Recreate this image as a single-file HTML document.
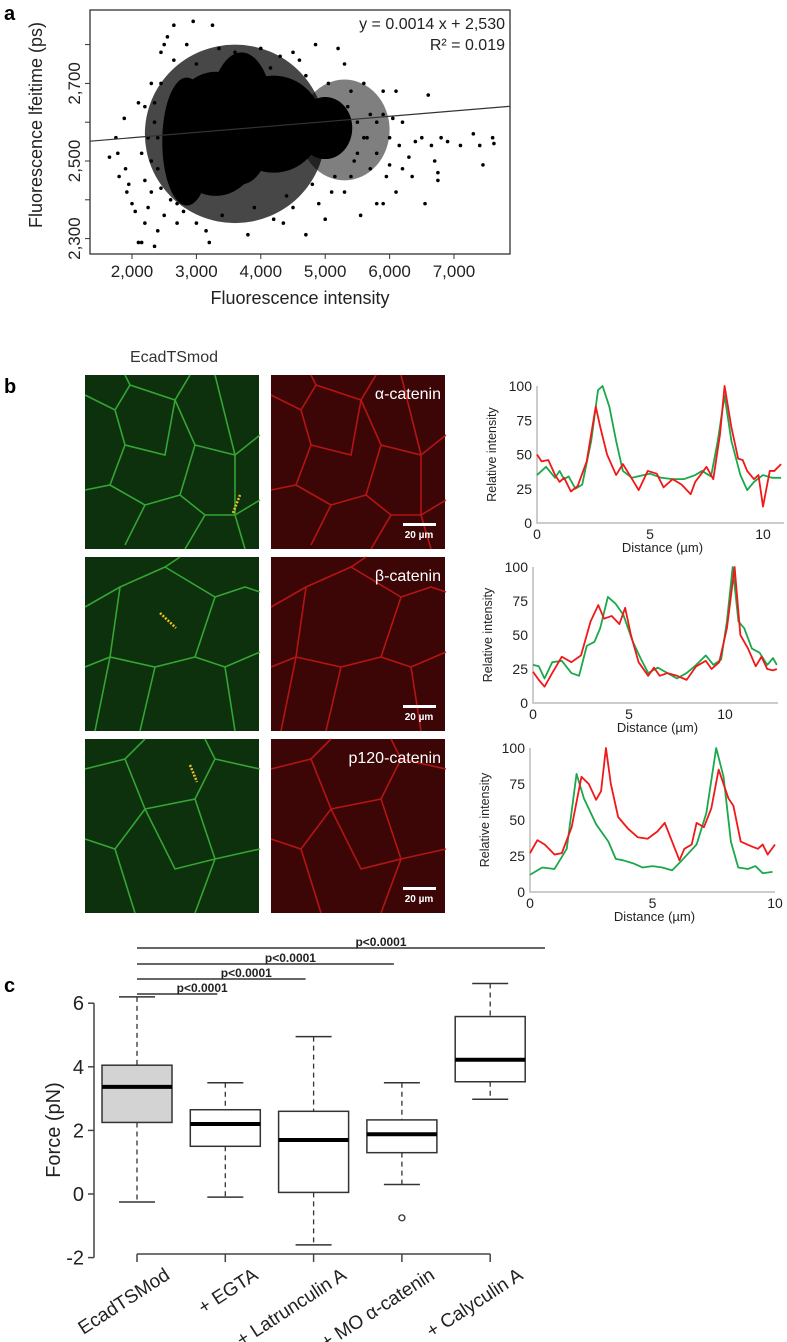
<!DOCTYPE html>
<html><head><meta charset="utf-8"><style>
html,body{margin:0;padding:0;background:#fff;}
svg{display:block;font-family:"Liberation Sans",Arial,sans-serif;}
</style></head><body>
<svg id="fig" width="787" height="1342" viewBox="0 0 787 1342" xmlns="http://www.w3.org/2000/svg">
<text x="4" y="20" font-size="20" font-weight="bold">a</text>
<text x="4" y="393" font-size="20" font-weight="bold">b</text>
<text x="4" y="992" font-size="20" font-weight="bold">c</text>
<g id="pa"></g>
<g id="pb"></g>
<g id="pl"></g>
<g id="pc"></g>
</svg>
<script>
const NS="http://www.w3.org/2000/svg";
function mk(p,t,a,txt){const e=document.createElementNS(NS,t);for(const k in a)e.setAttribute(k,a[k]);if(txt!==undefined)e.textContent=txt;p.appendChild(e);return e;}

// ===== Panel a data =====
const scatterXTicks=[2000,3000,4000,5000,6000,7000];
const scatterXTickLabels=["2,000","3,000","4,000","5,000","6,000","7,000"];
const scatterYTicks=[2300,2500,2700];
const scatterYTickLabels=["2,300","2,500","2,700"];
const scatterMinorY=[2300,2400,2500,2600,2700,2800];
const haloBlobs=[[3600,2570,1400,230,0.72],[5300,2580,700,130,0.5]];
const coreBlobs=[[3300,2570,750,160],[4200,2595,750,125],[5000,2585,420,80],[2850,2550,380,165],[3700,2610,500,170]];
const scatterPts=[[1650,2510],[1750,2560],[1800,2460],[1780,2520],[1880,2610],[1900,2480],[1920,2420],[1950,2440],[2000,2390],[2050,2370],[2100,2290],[2150,2290],[2200,2340],[2350,2280],[2400,2320],[2450,2780],[2550,2820],[2650,2850],[2950,2860],[3250,2850],[3200,2290],[3150,2320],[4350,2340],[4500,2780],[4850,2800],[5200,2790],[5300,2750],[5600,2700],[5900,2680],[6100,2680],[6600,2670],[6200,2600],[6500,2560],[6650,2540],[6800,2560],[6900,2550],[7100,2540],[7300,2570],[7400,2540],[7600,2560],[7620,2545],[7450,2490],[6700,2500],[6750,2470],[6750,2450],[6350,2460],[6550,2390],[5800,2390],[5900,2390],[5550,2360],[5100,2420],[5000,2350],[4900,2390],[6000,2490],[6200,2480],[5700,2480],[5500,2600],[5700,2620],[6000,2560],[5800,2520],[6300,2510],[4700,2310],[3800,2310],[2700,2340],[2800,2370],[2300,2420],[2500,2800],[3600,2780],[4000,2790],[4300,2770],[4600,2760],[3000,2750],[2300,2700],[2200,2640],[2100,2650],[2400,2480],[5400,2460],[5300,2420],[6100,2420],[6400,2550],[2250,2560],[2350,2600],[2300,2500],[5500,2520],[5600,2560],[5200,2650],[5400,2680],[2600,2400],[2500,2360],[4200,2350],[4500,2380],[5900,2620],[6150,2540],[2200,2450],[2150,2520],[2250,2380],[2450,2700],[2650,2760],[2850,2800],[3350,2790],[3800,2760],[4150,2740],[4700,2720],[5050,2700],[5350,2640],[5650,2560],[5450,2500],[5150,2460],[4800,2440],[4400,2410],[3900,2380],[3400,2360],[3000,2340],[2700,2390],[2450,2430],[2400,2560],[2350,2650],[5800,2600],[6050,2610],[5950,2460]];
const fitX=[1350,7870];
const fitY=[2551,2641];

(function(){
 const g=document.getElementById('pa');
 const xs=v=>132+(v-2000)*0.0644, ys=v=>161-(v-2500)*0.388;
 const box=mk(g,'rect',{x:90,y:10,width:420,height:244,fill:'none',stroke:'#333','stroke-width':1.3});
 
 haloBlobs.forEach(b=>{const e=mk(g,'ellipse',{cx:xs(b[0]),cy:ys(b[1]),rx:b[2]*0.0644,ry:b[3]*0.388,fill:'#000',opacity:b[4]});
  });
 coreBlobs.forEach(b=>{const e=mk(g,'ellipse',{cx:xs(b[0]),cy:ys(b[1]),rx:b[2]*0.0644,ry:b[3]*0.388,fill:'#000'});
  });
 scatterPts.forEach(p=>{const c=mk(g,'circle',{cx:xs(p[0]),cy:ys(p[1]),r:1.8,fill:'#000'});
  });
 const ln=mk(g,'line',{x1:Math.max(90,xs(fitX[0])),y1:ys(fitY[0]),x2:Math.min(510,xs(fitX[1])),y2:ys(fitY[1]),stroke:'#333','stroke-width':1.2});
 
 scatterXTicks.forEach((v,i)=>{mk(g,'line',{x1:xs(v),y1:254,x2:xs(v),y2:259,stroke:'#333'});
  const t=mk(g,'text',{x:xs(v),y:277,'font-size':17,'text-anchor':'middle',fill:'#222'},scatterXTickLabels[i]);
  });
 scatterMinorY.forEach(v=>mk(g,'line',{x1:85,y1:ys(v),x2:90,y2:ys(v),stroke:'#333'}));
 scatterYTicks.forEach((v,i)=>{const t=mk(g,'text',{x:0,y:0,'font-size':17,'text-anchor':'middle',fill:'#222',transform:`translate(80,${ys(v)}) rotate(-90)`},scatterYTickLabels[i]);
  });
 let t=mk(g,'text',{x:300,y:304,'font-size':18,'text-anchor':'middle',fill:'#222'},'Fluorescence intensity');
 
 t=mk(g,'text',{x:0,y:0,'font-size':18,'text-anchor':'middle',fill:'#222',transform:'translate(42,125) rotate(-90)'},'Fluorescence lfeitime (ps)');
 
 t=mk(g,'text',{x:505,y:29,'font-size':16,'text-anchor':'end',fill:'#222'},'y = 0.0014 x + 2,530');
 
 t=mk(g,'text',{x:505,y:50,'font-size':16,'text-anchor':'end',fill:'#222'},'R² = 0.019');
 
})();

// ===== Panel b micrographs =====
(function(){
 const g=document.getElementById('pb');
 let t=mk(g,'text',{x:174,y:362,'font-size':16,'text-anchor':'middle',fill:'#333'},'EcadTSmod');
 
 const rows=[375,557,739], labels=['α-catenin','β-catenin','p120-catenin'];
 const cells=[
  "M0,20 L30,35 L45,10 L90,25 L105,0 M90,25 L110,70 L150,80 L175,60 M110,70 L95,120 L60,130 L40,170 M95,120 L120,140 L150,140 L175,125 M60,130 L25,110 L0,115 M25,110 L40,70 L30,35 M40,70 L80,80 L90,25 M150,80 L150,140 L160,174 M120,140 L100,174 M45,10 L40,0 M130,0 L140,40 L150,80",
  "M0,50 L35,30 L80,10 L95,0 M35,30 L25,100 L0,110 M80,10 L130,40 L160,30 L175,35 M130,40 L110,100 L70,110 L25,100 M110,100 L140,110 L175,95 M70,110 L55,174 M140,110 L150,174 M25,100 L10,174",
  "M0,30 L40,20 L60,0 M40,20 L60,70 L30,110 L0,100 M60,70 L110,60 L130,20 L120,0 M110,60 L130,120 L175,110 M130,20 L175,30 M30,110 L50,174 M130,120 L110,174 M60,70 L90,130 L130,120"];
 rows.forEach((y,i)=>{
  [[85,'#0d300d','#3cb83c','green'],[271,'#3d0606','#c81818','red']].forEach(([x,bg,edge,nm])=>{
   const r=mk(g,'rect',{x:x,y:y,width:174,height:174,fill:bg});
   
   mk(g,'path',{d:cells[i],transform:`translate(${x},${y})`,fill:'none',stroke:edge,'stroke-width':1.6,opacity:0.85});
  });
  const l=mk(g,'text',{x:441,y:y+24,'font-size':16,'text-anchor':'end',fill:'#fff'},labels[i]);
  
  mk(g,'rect',{x:403,y:y+148,width:33,height:3,fill:'#fff'});
  const s=mk(g,'text',{x:419,y:y+163,'font-size':10,'font-weight':'bold','text-anchor':'middle',fill:'#fff'},'20 µm');
  
 });
 [[233,513,240,495],[160,613,176,628],[190,765,197,782]].forEach((d,i)=>{
  const y=mk(g,'line',{x1:d[0],y1:d[1],x2:d[2],y2:d[3],stroke:'#f0c020','stroke-width':2.5,'stroke-dasharray':'2 1.5'});
  
 });
})();

// ===== Line profiles data =====
const p1GreenX=[0,.4,.8,1,1.2,1.4,1.7,2,2.4,2.7,2.9,3.2,3.5,3.8,4.2,5,5.5,6,6.5,7,7.3,7.7,8,8.3,8.6,9,9.3,9.6,10,10.4,10.8];
const p1Green=[35,41,33,38,32,34,25,28,60,97,100,85,60,38,33,36,33,32,32,35,38,34,60,93,60,35,24,30,35,33,33];
const p1RedX=[0,.2,.5,.8,1,1.2,1.5,1.8,2.2,2.6,2.8,3.1,3.5,3.8,4.1,4.5,4.9,5.3,5.6,6,6.4,6.8,7,7.5,7.8,8.1,8.3,8.6,8.9,9.1,9.3,9.6,9.8,10,10.3,10.5,10.8];
const p1Red=[50,45,46,35,30,33,23,27,45,85,70,50,35,43,35,24,38,36,26,32,28,21,30,41,32,65,100,70,47,46,38,32,35,12,38,38,43];
const p2GreenX=[0,.3,.6,1,1.5,2,2.4,2.8,3.2,3.5,3.9,4.3,4.7,5.2,5.6,6,6.5,7,7.5,8,8.5,9,9.4,9.8,10.1,10.4,10.7,11,11.4,11.8,12.2,12.5,12.7];
const p2Green=[28,27,18,30,31,22,20,42,45,55,78,73,65,45,33,22,26,22,18,22,28,35,28,32,60,100,60,55,40,37,28,33,28];
const p2RedX=[0,.3,.6,1,1.5,2,2.5,3,3.4,3.7,4.1,4.5,4.8,5.1,5.5,6,6.3,6.6,7,7.5,8,8.5,9,9.3,9.7,10.1,10.5,10.8,11.2,11.6,11.9,12.2,12.5,12.7];
const p2Red=[23,17,12,22,34,30,35,60,72,62,64,58,70,50,30,20,26,20,22,20,17,27,31,25,30,55,100,50,40,27,34,25,24,25];
const p3GreenX=[0,.5,1,1.5,1.9,2.2,2.7,3.2,3.5,3.8,4.2,4.6,5,5.4,5.8,6.2,6.8,7.2,7.6,7.9,8.2,8.5,8.9,9.2,9.5,9.9];
const p3Green=[12,17,16,30,82,65,47,35,23,22,20,17,18,17,15,22,33,55,100,80,35,17,16,18,13,14];
const p3RedX=[0,.3,.6,1,1.3,1.7,2.1,2.4,2.7,2.9,3.1,3.3,3.6,4,4.4,4.8,5.2,5.5,5.8,6.1,6.3,6.6,6.8,7.1,7.4,7.7,8.1,8.3,8.6,9,9.3,9.5,9.7,10];
const p3Red=[27,36,33,26,27,45,80,75,64,70,100,75,52,44,38,37,42,48,35,22,30,33,48,45,58,85,65,60,35,32,30,33,26,33];
const yTicksProfile=[0,25,50,75,100];
const xTicksP1=[0,5,10], xTicksP2=[0,5,10], xTicksP3=[0,5,10];

(function(){
 const g=document.getElementById('pl');
 const charts=[
  {x0:537,x10:763,xend:784,y0:523,y100:386,xt:xTicksP1,s:[[p1GreenX,p1Green,'#1aa84a'],[p1RedX,p1Red,'#f01818']]},
  {x0:533,x10:725,xend:778,y0:703,y100:567,xt:xTicksP2,s:[[p2GreenX,p2Green,'#1aa84a'],[p2RedX,p2Red,'#f01818']]},
  {x0:530,x10:775,xend:775,y0:892,y100:748,xt:xTicksP3,s:[[p3GreenX,p3Green,'#1aa84a'],[p3RedX,p3Red,'#f01818']]}];
 charts.forEach((c,ci)=>{
  const xs=v=>c.x0+v*(c.x10-c.x0)/10, ys=v=>c.y0-v*(c.y0-c.y100)/100;
  const cg=mk(g,'g',{});
  mk(cg,'polyline',{points:`${c.x0},${c.y100} ${c.x0},${c.y0} ${c.xend},${c.y0}`,fill:'none',stroke:'#bbb','stroke-width':1.5});
  yTicksProfile.forEach(v=>{const t=mk(cg,'text',{x:c.x0-5,y:ys(v)+5,'font-size':14,'text-anchor':'end',fill:'#222'},String(v));
   });
  c.xt.forEach(v=>{const t=mk(cg,'text',{x:xs(v),y:c.y0+16,'font-size':14,'text-anchor':'middle',fill:'#222'},String(v));
   });
  let t=mk(cg,'text',{x:(c.x0+c.xend)/2+2,y:c.y0+29,'font-size':13,'text-anchor':'middle',fill:'#222'},'Distance (µm)');
  
  t=mk(cg,'text',{x:0,y:0,'font-size':12.5,'text-anchor':'middle',fill:'#222',transform:`translate(${c.x0-41},${(c.y0+c.y100)/2}) rotate(-90)`},'Relative intensity');
  
  c.s.forEach(([X,Y,col],si)=>{
   const p=mk(cg,'polyline',{points:X.map((x,i)=>xs(x)+','+ys(Y[i])).join(' '),fill:'none',stroke:col,'stroke-width':1.8,'stroke-linejoin':'round'});
   
  });
 });
})();

// ===== Panel c boxplot data =====
const boxCats=["EcadTSMod","+ EGTA","+ Latrunculin A","+ MO α-catenin","+ Calyculin A"];
const boxLow=[-0.25,-0.1,-1.6,0.3,2.98];
const boxQ1=[2.25,1.5,0.05,1.3,3.53];
const boxMed=[3.37,2.2,1.7,1.88,4.22];
const boxQ3=[4.05,2.65,2.6,2.33,5.58];
const boxHigh=[6.2,3.5,4.95,3.5,6.62];
const boxOutliers=[[3,-0.75]];
const forceTicks=[-2,0,2,4,6];
const sigTo=[1,2,3,4];
const sigLabels=["p<0.0001","p<0.0001","p<0.0001","p<0.0001"];

(function(){
 const g=document.getElementById('pc');
 const ys=v=>1194-v*31.8, xc=i=>137+i*88.3;
 mk(g,'line',{x1:94,y1:ys(6),x2:94,y2:ys(-2),stroke:'#444','stroke-width':1.5});
 forceTicks.forEach(v=>{mk(g,'line',{x1:88,y1:ys(v),x2:94,y2:ys(v),stroke:'#444','stroke-width':1.5});
  const t=mk(g,'text',{x:84,y:ys(v)+7,'font-size':20,'text-anchor':'end',fill:'#222'},String(v));
  });
 let t=mk(g,'text',{x:0,y:0,'font-size':20,'text-anchor':'middle',fill:'#222',transform:'translate(60,1130) rotate(-90)'},'Force (pN)');
 
 mk(g,'line',{x1:xc(0),y1:1254,x2:xc(4),y2:1254,stroke:'#444','stroke-width':1.5});
 boxCats.forEach((c,i)=>{
  const x=xc(i);
  mk(g,'line',{x1:x,y1:1254,x2:x,y2:1262,stroke:'#444','stroke-width':1.5});
  const bg=mk(g,'g',{});
  mk(bg,'line',{x1:x,y1:ys(boxHigh[i]),x2:x,y2:ys(boxQ3[i]),stroke:'#333','stroke-width':1.3,'stroke-dasharray':'5 4'});
  mk(bg,'line',{x1:x,y1:ys(boxQ1[i]),x2:x,y2:ys(boxLow[i]),stroke:'#333','stroke-width':1.3,'stroke-dasharray':'5 4'});
  mk(bg,'line',{x1:x-18,y1:ys(boxHigh[i]),x2:x+18,y2:ys(boxHigh[i]),stroke:'#333','stroke-width':1.5});
  mk(bg,'line',{x1:x-18,y1:ys(boxLow[i]),x2:x+18,y2:ys(boxLow[i]),stroke:'#333','stroke-width':1.5});
  mk(bg,'rect',{x:x-35,y:ys(boxQ3[i]),width:70,height:ys(boxQ1[i])-ys(boxQ3[i]),fill:i===0?'#d3d3d3':'#fff',stroke:'#333','stroke-width':1.5});
  mk(bg,'line',{x1:x-35,y1:ys(boxMed[i]),x2:x+35,y2:ys(boxMed[i]),stroke:'#000','stroke-width':4});
  const l=mk(g,'text',{x:0,y:0,'font-size':19,'text-anchor':'end',fill:'#222',transform:`translate(${x+34},${1278}) rotate(-33)`},c);
  
 });
 boxOutliers.forEach(o=>{const c=mk(g,'circle',{cx:xc(o[0]),cy:ys(o[1]),r:3,fill:'none',stroke:'#333','stroke-width':1.3});
  });
 const sy=[994,979,964,948];
 sigTo.forEach((k,i)=>{
  const x2=i===3?545:xc(k)-8;
  const l=mk(g,'line',{x1:xc(0),y1:sy[i],x2:x2,y2:sy[i],stroke:'#333','stroke-width':1.5});
  
  const tx=mk(g,'text',{x:(xc(0)+x2)/2+(i===3?40:25),y:sy[i]-2,'font-size':12,'font-weight':'bold','text-anchor':'middle',fill:'#222'},sigLabels[i]);
  
 });
})();
</script>
</body></html>
